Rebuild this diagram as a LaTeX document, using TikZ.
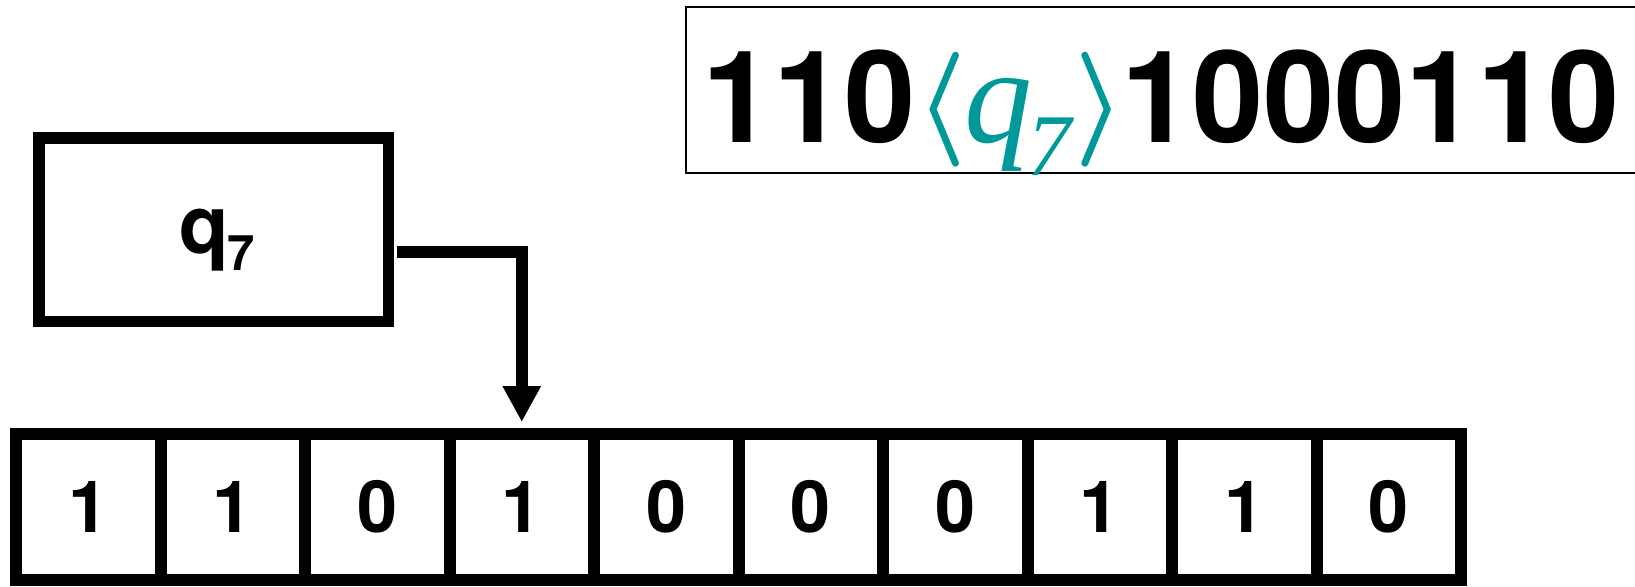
\RequirePackage{fix-cm}
\documentclass[tikz,border=0pt]{standalone}
\usepackage{fontspec}
\setmainfont{TeX Gyre Heros}
\newfontfamily\serifit{Liberation Serif}
\usetikzlibrary{arrows.meta}
\definecolor{tealq}{RGB}{0,153,153}
\newcommand\angbr[1]{{\color{tealq}\boldmath\fontsize{57.5}{60}\selectfont
  \raisebox{1.85pt}{$#1$}}}
\tikzset{
  thickline/.style={line width=6pt},
  cell/.style={draw, thickline, minimum width=72.25pt, minimum height=73pt,
    inner sep=0pt, outer sep=0pt, font=\fontsize{36}{40}\selectfont\bfseries},
  statebox/.style={draw, line width=5.75pt, minimum width=174.75pt, minimum height=91.75pt,
    inner sep=0pt, text height=23.5pt, text depth=0pt, font=\bfseries},
  bigdigits/.style={anchor=base west, inner sep=0pt, font=\fontsize{64}{70}\selectfont\bfseries},
  headarrow/.style={thickline, line join=miter, -{Triangle[length=18pt,width=18pt]},
    shorten <=1.5pt, shorten >=6pt}
}
\begin{document}
\begin{tikzpicture}[x=0.5pt,y=-0.5pt]
\clip (0,0) rectangle (1635,586);
\fill[white] (0,0) rectangle (1635,586);
% configuration box
\draw[line width=0.8pt] (686,7) rectangle (1700,173);
\node[bigdigits] (config) at (702,142)
  {110\angbr{\langle}\kern-1.2pt{\color{tealq}\serifit\mdseries\itshape\fontsize{68}{70}\selectfont
   q\kern-2.9pt\raisebox{-16.5pt}{\fontsize{44}{46}\selectfont 7}}\kern1.6pt\angbr{\rangle}\kern-2.3pt 1000110};
% state box
\node[statebox] (qbox) at (213.5,229.5)
  {\fontsize{40.5}{44}\selectfont \kern3.6pt q\kern-1pt\raisebox{-8.5pt}{\fontsize{24.5}{26}\selectfont 7}};
% tape
\foreach \d [count=\i from 0] in {1,1,0,1,0,0,0,1,1,0} {
  \node[cell] (c\i) at (88.25+\i*144.5,507) {\d};
}
% head arrow
\draw[headarrow] ([yshift=-11.25pt]qbox.east) -| (c3.north);
\end{tikzpicture}
\end{document}
